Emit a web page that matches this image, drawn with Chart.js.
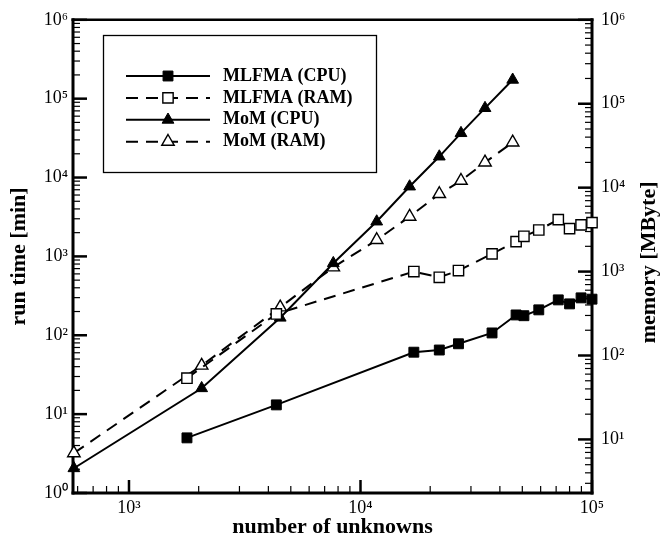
<!DOCTYPE html>
<html>
<head>
<meta charset="utf-8">
<script src="https://cdn.jsdelivr.net/npm/chart.js@4/dist/chart.umd.min.js"></script>
<style>
  html, body { margin: 0; padding: 0; background: #fff; }
  #wrap { width: 660px; height: 542px; position: relative; }
</style>
</head>
<body>
<div id="wrap"><canvas id="c" width="660" height="542"></canvas></div>
<script>
// ---------- data ----------
const seriesNames = ['MLFMA (CPU)', 'MLFMA (RAM)', 'MoM (CPU)', 'MoM (RAM)'];
const unknownsMlfma = [1780, 4330, 17000, 21900, 26500, 37000, 47000, 50800, 58900, 71500, 80000, 89700, 100000];
const mlfmaCpu = [5.0, 13.1, 61, 65, 78, 107, 181, 177, 210, 281, 250, 298, 287];
const mlfmaRam = [53.7, 313, 1000, 855, 1028, 1626, 2276, 2630, 3130, 4160, 3250, 3600, 3830];
const unknownsMom = [578, 2060, 4500, 7630, 11750, 16300, 21900, 27170, 34500, 45430];
const momCpu = [2.06, 21.3, 167, 820, 2766, 7690, 18450, 36550, 75900, 173500];
const momRam = [6.87, 76, 376, 1125, 2380, 4520, 8410, 12100, 20000, 34600];

// ---------- axes / tick labels ----------
const xTitle = 'number of unknowns';
const yLeftTitle = 'run time [min]';
const yRightTitle = 'memory [MByte]';
const xMajorVals = [1e3, 1e4, 1e5];
const xMajorLabels = ['10³', '10⁴', '10⁵'];
const yLeftMajorVals = [1, 10, 100, 1e3, 1e4, 1e5, 1e6];
const yLeftMajorLabels = ['10⁰', '10¹', '10²', '10³', '10⁴', '10⁵', '10⁶'];
const yRightMajorVals = [10, 100, 1e3, 1e4, 1e5, 1e6];
const yRightMajorLabels = ['10¹', '10²', '10³', '10⁴', '10⁵', '10⁶'];
const xRange = [573, 100000];
const yLeftRange = [1, 1e6];
const yRightRange = [2.3, 1e6];

const FONT = 'Liberation Serif, Times New Roman, serif';

function logTicks(min, max) {
  const out = [];
  const d0 = Math.floor(Math.log10(min)), d1 = Math.ceil(Math.log10(max));
  for (let d = d0; d <= d1; d++) {
    for (let k = 1; k <= 9; k++) {
      const v = k * Math.pow(10, d);
      if (v >= min * 0.9999 && v <= max * 1.0001) out.push(v);
    }
  }
  return out;
}
function isMajor(v) { const l = Math.log10(v); return Math.abs(l - Math.round(l)) < 1e-6; }
function labelFrom(vals, labels) {
  return function (v) {
    for (let i = 0; i < vals.length; i++) if (Math.abs(vals[i] - v) / vals[i] < 1e-6) return labels[i];
    return '';
  };
}

const tickFont = { family: FONT, size: 18 };
const titleFont = { family: FONT, size: 22, weight: 'bold' };

// frame + inward tick marks, right title, legend box
const framePlugin = {
  id: 'framePlugin',
  beforeDatasetsDraw(chart) {
    const { ctx, chartArea: a, scales } = chart;
    ctx.save();
    ctx.strokeStyle = '#000';
    ctx.lineCap = 'butt';
    function seg(x1, y1, x2, y2, w) {
      ctx.lineWidth = w; ctx.beginPath(); ctx.moveTo(x1, y1); ctx.lineTo(x2, y2); ctx.stroke();
    }
    scales.x.ticks.forEach(t => {
      const x = scales.x.getPixelForValue(t.value);
      const mj = isMajor(t.value);
      seg(x, a.bottom, x, a.bottom - (mj ? 13 : 7), mj ? 2.5 : 1.2);
    });
    scales.yL.ticks.forEach(t => {
      const y = scales.yL.getPixelForValue(t.value);
      const mj = isMajor(t.value);
      seg(a.left, y, a.left + (mj ? 14 : 7), y, mj ? 2.5 : 1.2);
    });
    scales.yR.ticks.forEach(t => {
      const y = scales.yR.getPixelForValue(t.value);
      const mj = isMajor(t.value);
      seg(a.right, y, a.right - (mj ? 14 : 7), y, mj ? 2.5 : 1.2);
    });
    seg(a.left, a.top - 1.5, a.left, a.bottom + 1.5, 3);
    seg(a.right, a.top - 1.5, a.right, a.bottom + 1.5, 3);
    seg(a.left - 1.5, a.bottom, a.right + 1.5, a.bottom, 3);
    seg(a.left - 1.5, a.top, a.right + 1.5, a.top, 2.5);
    ctx.restore();
  },
  afterDraw(chart) {
    const { ctx, chartArea: a } = chart;
    ctx.save();
    ctx.translate(649, (a.top + a.bottom) / 2 + 6);
    ctx.rotate(-Math.PI / 2);
    ctx.font = 'bold 22px ' + FONT;
    ctx.fillStyle = '#000';
    ctx.textAlign = 'center';
    ctx.textBaseline = 'middle';
    ctx.fillText(yRightTitle, 0, 0);
    ctx.restore();

    ctx.save();
    ctx.strokeStyle = '#000';
    ctx.lineWidth = 1.3;
    ctx.strokeRect(103.5, 35.5, 273, 137);
    chart.data.datasets.forEach((d, i) => {
      const y = 76 + i * 21.9;
      ctx.strokeStyle = '#000';
      ctx.lineWidth = 2;
      ctx.setLineDash(d.borderDash || []);
      ctx.beginPath(); ctx.moveTo(126, y); ctx.lineTo(210, y); ctx.stroke();
      ctx.setLineDash([]);
      drawMarker(ctx, d.pointStyle, 168, y, d.pointRadius, d.pointBackgroundColor, d.pointBorderWidth);
      ctx.fillStyle = '#000';
      ctx.font = 'bold 18px ' + FONT;
      ctx.textAlign = 'left';
      ctx.textBaseline = 'middle';
      ctx.fillText(d.label, 223, y);
    });
    ctx.restore();
  }
};
function drawMarker(ctx, style, x, y, r, fill, bw) {
  ctx.save();
  ctx.fillStyle = fill; ctx.strokeStyle = '#000'; ctx.lineWidth = bw;
  ctx.beginPath();
  if (style === 'rect') {
    const s = r * Math.SQRT1_2;
    ctx.rect(x - s, y - s, 2 * s, 2 * s);
  } else {
    let rad = 0;
    ctx.moveTo(x + Math.sin(rad) * r, y - Math.cos(rad) * r);
    rad += 2 * Math.PI / 3;
    ctx.lineTo(x + Math.sin(rad) * r, y - Math.cos(rad) * r);
    rad += 2 * Math.PI / 3;
    ctx.lineTo(x + Math.sin(rad) * r, y - Math.cos(rad) * r);
    ctx.closePath();
  }
  ctx.fill(); ctx.stroke();
  ctx.restore();
}

function pts(xs, ys) { return xs.map((x, i) => ({ x: x, y: ys[i] })); }
const common = { borderColor: '#000', borderWidth: 2, pointBorderColor: '#000', tension: 0, clip: false, fill: false };

new Chart(document.getElementById('c'), {
  type: 'line',
  data: {
    datasets: [
      Object.assign({}, common, { label: seriesNames[0], data: pts(unknownsMlfma, mlfmaCpu), yAxisID: 'yL',
        pointStyle: 'rect', pointRadius: 7, pointBackgroundColor: '#000', pointBorderWidth: 1 }),
      Object.assign({}, common, { label: seriesNames[1], data: pts(unknownsMlfma, mlfmaRam), yAxisID: 'yR',
        borderDash: [12, 8], pointStyle: 'rect', pointRadius: 7.3, pointBackgroundColor: '#fff', pointBorderWidth: 1.4 }),
      Object.assign({}, common, { label: seriesNames[2], data: pts(unknownsMom, momCpu), yAxisID: 'yL',
        pointStyle: 'triangle', pointRadius: 6.8, pointBackgroundColor: '#000', pointBorderWidth: 1 }),
      Object.assign({}, common, { label: seriesNames[3], data: pts(unknownsMom, momRam), yAxisID: 'yR',
        borderDash: [12, 8], pointStyle: 'triangle', pointRadius: 7.2, pointBackgroundColor: '#fff', pointBorderWidth: 1.4 })
    ]
  },
  options: {
    responsive: false,
    animation: false,
    devicePixelRatio: 1,
    layout: { padding: { top: 19, left: 0, right: 0, bottom: 0 } },
    plugins: { legend: { display: false }, tooltip: { enabled: false } },
    scales: {
      x: {
        type: 'logarithmic', min: xRange[0], max: xRange[1],
        afterBuildTicks: s => { s.ticks = logTicks(xRange[0], xRange[1]).map(v => ({ value: v })); },
        afterFit: s => { s.height = 49; },
        grid: { display: false, drawTicks: false }, border: { display: false },
        ticks: { autoSkip: false, maxRotation: 0, minRotation: 0, padding: 4, color: '#000', font: tickFont,
          callback: labelFrom(xMajorVals, xMajorLabels) },
        title: { display: true, text: xTitle, color: '#000', font: titleFont, padding: { top: 0, bottom: 1 } }
      },
      yL: {
        type: 'logarithmic', position: 'left', min: yLeftRange[0], max: yLeftRange[1],
        afterBuildTicks: s => { s.ticks = logTicks(yLeftRange[0], yLeftRange[1]).map(v => ({ value: v })); },
        afterFit: s => { s.width = 73; },
        grid: { display: false, drawTicks: false }, border: { display: false },
        ticks: { autoSkip: false, padding: 5, color: '#000', font: tickFont,
          callback: labelFrom(yLeftMajorVals, yLeftMajorLabels) },
        title: { display: true, text: yLeftTitle, color: '#000', font: titleFont, padding: { top: 6, bottom: 0 } }
      },
      yR: {
        type: 'logarithmic', position: 'right', min: yRightRange[0], max: yRightRange[1],
        afterBuildTicks: s => { s.ticks = logTicks(yRightRange[0], yRightRange[1]).map(v => ({ value: v })); },
        afterFit: s => { s.width = 68; },
        grid: { display: false, drawTicks: false }, border: { display: false },
        ticks: { autoSkip: false, padding: 9, color: '#000', font: tickFont,
          callback: labelFrom(yRightMajorVals, yRightMajorLabels) },
        title: { display: false }
      }
    }
  },
  plugins: [framePlugin]
});
</script>
</body>
</html>
